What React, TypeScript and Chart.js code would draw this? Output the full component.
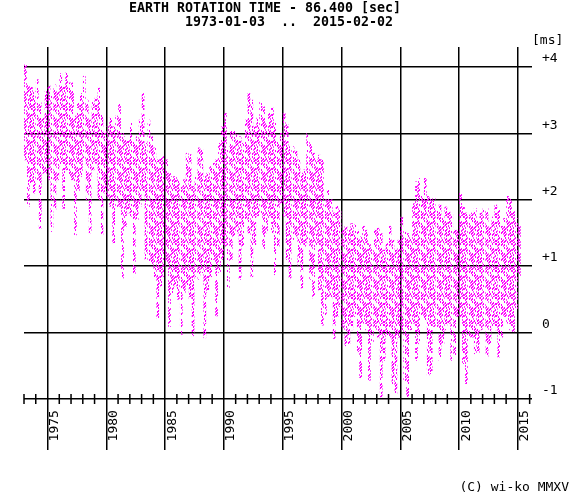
import React, { useEffect, useRef } from "react";
import { Chart, registerables } from "chart.js";

Chart.register(...registerables);

// Quarterly bins starting 1973 Q1 (last bin: January 2015)
const START_YEAR = 1973;

// Upper envelope of daily values per quarter [ms]
const HIGHS: number[] = [
  4.03, 3.75, 3.73, 3.63, // 1973
  3.81, 3.46, 3.23, 3.63, // 1974
  3.72, 3.6, 3.73, 3.66, // 1975
  3.9, 3.7, 3.91, 3.76, // 1976
  3.76, 3.26, 3.46, 3.6, // 1977
  3.86, 3.5, 3.2, 3.48, // 1978
  3.53, 3.68, 3.28, 3.0, // 1979
  3.1, 3.23, 3.1, 3.26, // 1980
  3.46, 3.0, 2.95, 2.9, // 1981
  3.18, 2.9, 2.95, 3.2, // 1982
  3.6, 2.85, 3.2, 2.95, // 1983
  2.78, 2.6, 2.65, 2.65, // 1984
  2.6, 2.4, 2.35, 2.35, // 1985
  2.3, 2.2, 2.3, 2.7, // 1986
  2.68, 2.2, 2.38, 2.78, // 1987
  2.75, 2.35, 2.4, 2.5, // 1988
  2.55, 2.6, 2.85, 3.1, // 1989
  3.3, 2.8, 3.03, 3.03, // 1990
  2.98, 2.95, 2.85, 3.2, // 1991
  3.6, 3.5, 3.1, 3.23, // 1992
  3.5, 3.4, 3.15, 3.3, // 1993
  3.38, 3.2, 2.9, 3.0, // 1994
  3.3, 3.13, 2.8, 2.8, // 1995
  2.73, 2.6, 2.4, 2.45, // 1996
  3.0, 2.9, 2.7, 2.6, // 1997
  2.67, 2.6, 2.0, 2.15, // 1998
  2.0, 1.8, 1.9, 1.85, // 1999
  1.54, 1.6, 1.54, 1.64, // 2000
  1.62, 1.54, 1.44, 1.6, // 2001
  1.54, 1.34, 1.29, 1.54, // 2002
  1.57, 1.49, 1.24, 1.34, // 2003
  1.6, 1.39, 1.24, 1.39, // 2004
  1.74, 1.54, 1.49, 1.44, // 2005
  1.94, 2.27, 2.32, 2.1, // 2006
  2.32, 2.05, 2.02, 2.02, // 2007
  1.84, 1.92, 1.72, 1.89, // 2008
  1.84, 1.8, 1.54, 1.54, // 2009
  2.12, 1.89, 1.8, 1.77, // 2010
  1.8, 1.87, 1.74, 1.8, // 2011
  1.87, 1.87, 1.64, 1.74, // 2012
  1.92, 1.84, 1.6, 1.72, // 2013
  2.05, 2.02, 1.84, 1.72, // 2014
  1.6, // 2015
];

// Lower envelope of daily values per quarter [ms]
const LOWS: number[] = [
  2.6, 1.9, 2.25, 2.1, // 1973
  2.3, 1.57, 2.4, 2.4, // 1974
  2.3, 1.52, 1.85, 2.3, // 1975
  2.5, 1.87, 2.45, 2.35, // 1976
  2.3, 1.47, 2.1, 2.35, // 1977
  2.6, 2.0, 1.5, 2.45, // 1978
  2.55, 2.0, 1.47, 2.1, // 1979
  2.05, 1.9, 1.35, 1.85, // 1980
  1.9, 0.82, 1.6, 1.8, // 1981
  1.75, 0.84, 1.7, 1.9, // 1982
  2.1, 1.1, 1.05, 1.0, // 1983
  0.84, 0.22, 0.7, 0.84, // 1984
  1.0, 0.09, 0.6, 0.7, // 1985
  0.5, -0.03, 0.6, 0.7, // 1986
  0.5, -0.05, 0.84, 0.8, // 1987
  0.9, -0.08, 0.6, 0.84, // 1988
  1.1, 0.25, 0.9, 1.1, // 1989
  1.3, 0.65, 1.1, 1.45, // 1990
  1.5, 0.8, 1.3, 1.7, // 1991
  1.5, 0.84, 1.3, 1.75, // 1992
  1.8, 1.25, 1.5, 1.7, // 1993
  1.5, 0.87, 1.3, 1.95, // 1994
  1.75, 1.1, 0.82, 1.4, // 1995
  1.45, 1.0, 0.67, 1.3, // 1996
  1.35, 0.8, 0.52, 1.3, // 1997
  0.64, 0.11, 0.24, 0.54, // 1998
  0.54, -0.09, 0.24, 0.39, // 1999
  0.04, -0.2, -0.17, 0.04, // 2000
  0.24, -0.29, -0.69, 0.14, // 2001
  0.04, -0.72, -0.17, 0.04, // 2002
  -0.07, -0.97, -0.42, -0.07, // 2003
  -0.07, -0.82, -0.92, -0.07, // 2004
  0.04, -0.77, -0.97, 0.04, // 2005
  0.14, -0.42, -0.17, 0.24, // 2006
  0.19, -0.64, -0.62, 0.09, // 2007
  0.04, -0.42, -0.17, 0.04, // 2008
  0.14, -0.42, -0.37, 0.24, // 2009
  0.24, -0.47, -0.77, -0.07, // 2010
  -0.07, -0.32, -0.34, 0.04, // 2011
  0.09, -0.37, -0.17, 0.09, // 2012
  0.04, -0.37, -0.07, 0.24, // 2013
  0.14, 0.04, 0.01, 0.34, // 2014
  0.84, // 2015
];

const Y_TICKS = [-1, 0, 1, 2, 3, 4];
const Y_LABELS = ["-1", "0", "+1", "+2", "+3", "+4"];
const X_MAJOR = [1975, 1980, 1985, 1990, 1995, 2000, 2005, 2010, 2015];
const X_MINOR_FIRST = 1973;
const X_MINOR_LAST = 2016;

const TITLE = "EARTH ROTATION TIME - 86.400 [sec]";
const SUBTITLE = "1973-01-03  ..  2015-02-02";
const UNIT = "[ms]";
const CREDIT = "(C) wi-ko MMXV";

const MAGENTA = "#ff00ff";
const MONO = '"DejaVu Sans Mono", "Liberation Mono", monospace';

// dotted texture (style only): short vertical dashes laid out by a fixed integer hash
function makeDotPattern(ctx: CanvasRenderingContext2D): CanvasPattern | string {
  const W = 16;
  const H = 27;
  const c = document.createElement("canvas");
  c.width = W;
  c.height = H;
  const p = c.getContext("2d");
  if (!p) return MAGENTA;
  p.fillStyle = MAGENTA;
  for (let x = 0; x < W; x++) {
    for (let y = (x * 2) % 3; y < H; y += 3) {
      const h = (x * 73 + y * 151 + x * y * 19) % 97;
      if (h < 62) p.fillRect(x, y, 1, 2);
    }
  }
  return ctx.createPattern(c, "repeat") || MAGENTA;
}

const textPlugin = {
  id: "wikoText",
  afterDraw(chart: any) {
    const ctx: CanvasRenderingContext2D = chart.ctx;
    const xs = chart.scales.x;
    const ys = chart.scales.y;
    const y0 = ys.getPixelForValue(-1);
    ctx.save();
    ctx.fillStyle = "#000";
    ctx.strokeStyle = "#000";

    // titles
    ctx.font = `bold 13.3px ${MONO}`;
    ctx.textAlign = "center";
    ctx.textBaseline = "middle";
    ctx.fillText(TITLE, 265, 9);
    ctx.fillText(SUBTITLE, 289, 23);

    // minor year ticks on the -1 axis
    ctx.lineWidth = 1.5;
    ctx.beginPath();
    for (let yr = X_MINOR_FIRST; yr <= X_MINOR_LAST; yr++) {
      if (X_MAJOR.includes(yr)) continue;
      const x = xs.getPixelForValue(yr);
      ctx.moveTo(x, y0 - 5);
      ctx.lineTo(x, y0 + 5);
    }
    ctx.stroke();

    // right-hand value labels
    ctx.font = `13px ${MONO}`;
    ctx.textAlign = "left";
    ctx.textBaseline = "middle";
    Y_TICKS.forEach((v, i) => {
      ctx.fillText(Y_LABELS[i], xs.right + 10, ys.getPixelForValue(v) - 8);
    });
    ctx.fillText(UNIT, xs.right, ys.getPixelForValue(4) - 26);

    // rotated year labels
    ctx.textBaseline = "alphabetic";
    X_MAJOR.forEach((yr) => {
      const x = xs.getPixelForValue(yr);
      ctx.save();
      ctx.translate(x + 10.5, y0 + 42.5);
      ctx.rotate(-Math.PI / 2);
      ctx.fillText(String(yr), 0, 0);
      ctx.restore();
    });

    // credit
    ctx.textAlign = "right";
    ctx.fillText(CREDIT, 569, 491);
    ctx.restore();
  },
};

export default function App() {
  const ref = useRef<HTMLCanvasElement | null>(null);

  useEffect(() => {
    document.body.style.margin = "0";
    const canvas = ref.current;
    if (!canvas) return;
    const ctx = canvas.getContext("2d");
    if (!ctx) return;
    const points = HIGHS.map((h, i) => ({
      x: START_YEAR + i * 0.25 + 0.125,
      y: [LOWS[i], h],
    }));
    const chart = new Chart(ctx, {
      type: "bar",
      data: {
        datasets: [
          {
            data: points as any,
            backgroundColor: makeDotPattern(ctx) as any,
            borderWidth: 0,
            barThickness: 2,
            grouped: false,
          } as any,
        ],
      },
      options: {
        animation: false,
        responsive: false,
        devicePixelRatio: 1,
        layout: { padding: { left: 24, right: 47, top: 47, bottom: 49 } },
        plugins: {
          legend: { display: false },
          tooltip: { enabled: false },
          title: { display: false },
        },
        scales: {
          x: {
            type: "linear",
            min: 1973,
            max: 2016.2,
            offset: false,
            z: 1,
            ticks: { display: false },
            grid: { color: "#000", lineWidth: 1.5, drawTicks: false, offset: false },
            border: { display: false },
            afterBuildTicks: (s: any) => {
              s.ticks = X_MAJOR.map((v) => ({ value: v }));
            },
          },
          y: {
            type: "linear",
            min: -1.77,
            max: 4.3,
            z: 1,
            ticks: { display: false },
            grid: { color: "#000", lineWidth: 1.5, drawTicks: false },
            border: { display: false },
            afterBuildTicks: (s: any) => {
              s.ticks = Y_TICKS.map((v) => ({ value: v }));
            },
          },
        },
      } as any,
      plugins: [textPlugin],
    });
    return () => chart.destroy();
  }, []);

  return (
    <div style={{ width: 579, height: 499, background: "#fff" }}>
      <canvas ref={ref} width={579} height={499} style={{ display: "block" }} />
    </div>
  );
}
